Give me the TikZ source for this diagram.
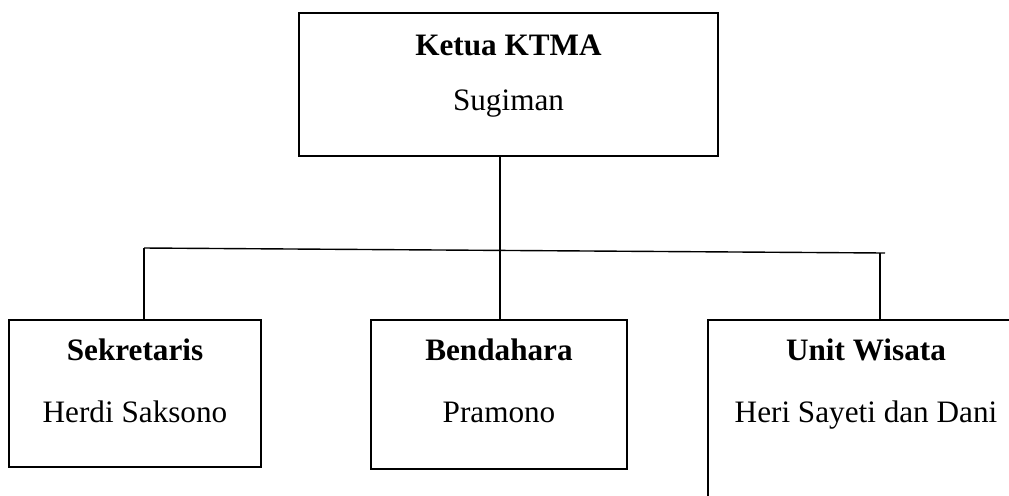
\documentclass[tikz,border=0pt]{standalone}
\usepackage{fontspec}
\setmainfont{Liberation Serif}
\begin{document}
\begin{tikzpicture}[x=0.5pt,y=-0.5pt,
  box/.style={draw,line width=1.1pt,rectangle,inner sep=0pt,outer sep=0pt},
  conn/.style={draw,line width=0.7pt},
  title/.style={anchor=base,inner sep=0pt,font=\fontsize{15.6pt}{18pt}\selectfont\bfseries},
  person/.style={anchor=base,inner sep=0pt,font=\fontsize{15.6pt}{18pt}\selectfont}]
\useasboundingbox (0,0) rectangle (1009,495);
\clip (0,0) rectangle (1009,495);
% boxes
\node[box,minimum width=209.5pt,minimum height=71.5pt] (top) at (508.5,84.5) {};
\node[box,minimum width=126pt,minimum height=73.5pt] (sek) at (135,393.5) {};
\node[box,minimum width=128pt,minimum height=74.5pt] (ben) at (499,394.5) {};
\node[box,minimum width=158pt,minimum height=100pt] (uni) at (866,420) {};
% texts
\node[title] (t1) at (508.5,55) {Ketua KTMA};
\node[person] (p1) at (508.5,110) {Sugiman};
\node[title] (t2) at (135,360) {Sekretaris};
\node[person] (p2) at (135,422) {Herdi Saksono};
\node[title] (t3) at (499,360) {Bendahara};
\node[person] (p3) at (499,422) {Pramono};
\node[title] (t4) at (866,360) {Unit Wisata};
\node[person] (p4) at (866,422) {Heri Sayeti dan Dani};
% connectors
\coordinate (hl) at (144,248);
\coordinate (hr) at (885,253);
\coordinate (hd) at (880,253);
\coordinate (hm) at (500,250.5);
\draw[conn] (hl) -- (hr);
\draw[conn] (top.south -| hm) -- (ben.north -| hm);
\draw[conn] (hl) -- (hl |- sek.north);
\draw[conn] (hd) -- (hd |- uni.north);
\end{tikzpicture}
\end{document}
